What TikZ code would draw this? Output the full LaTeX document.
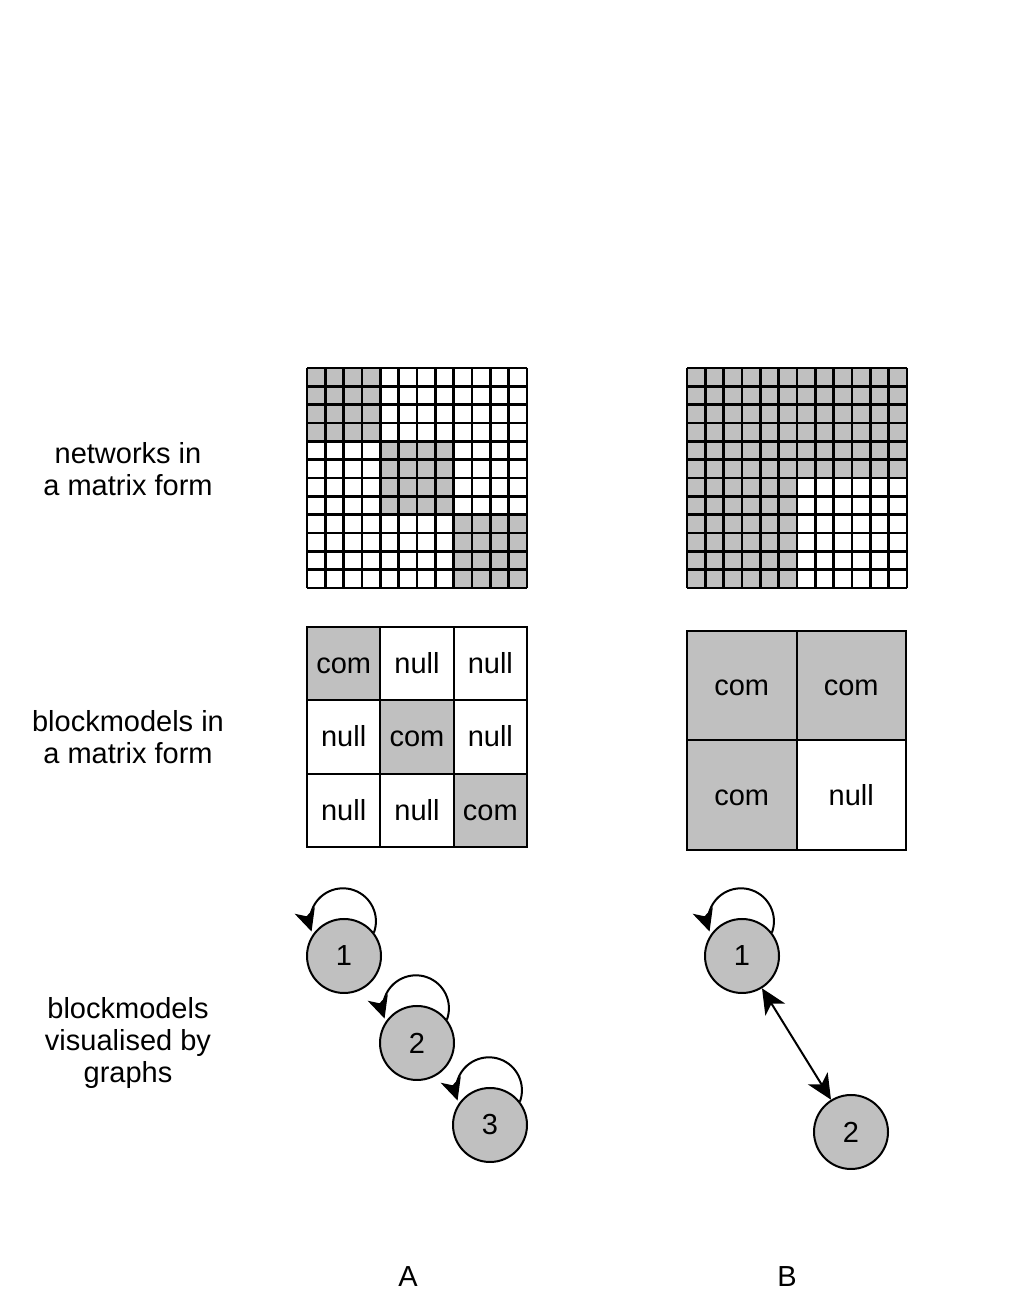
\documentclass[tikz,border=0pt]{standalone}
\usepackage{fontspec}
\setmainfont{Liberation Sans}
\usetikzlibrary{arrows.meta}
\definecolor{cellgray}{RGB}{192,192,192}
\tikzset{
  lbl/.style={font=\fontsize{29}{32}\selectfont, align=center},
  gline/.style={line width=2.5pt},
  celltext/.style={font=\fontsize{29}{32}\selectfont, text height=20pt, text depth=0pt},
  cellA/.style={draw, line width=2pt, minimum size=73.33pt, inner sep=0pt, celltext},
  cellB/.style={draw, line width=2pt, minimum size=109.5pt, inner sep=0pt, celltext},
  gray/.style={fill=cellgray},
  vtx/.style={circle, draw, line width=2pt, fill=cellgray, minimum size=74pt, inner sep=0pt, font=\fontsize{29}{32}\selectfont},
  tipA/.style={-{Stealth[length=22pt,width=21pt,inset=6pt]}, line width=2pt},
  bidir/.style={{Stealth[length=25pt,width=23pt,inset=7pt]}-{Stealth[length=25pt,width=23pt,inset=7pt]}, line width=2pt},
}
\begin{document}
\begin{tikzpicture}[x=1pt,y=1pt]
\useasboundingbox (0,0) rectangle (1017,1316);

% left labels
\node[lbl] (l1) at (128,847) {networks in\\a matrix form};
\node[lbl] (l2) at (128,579) {blockmodels in\\a matrix form};
\node[lbl] (l3) at (128,273) {blockmodels\\visualised by\\graphs};

% Matrix A (12x12), top-left (307,948)
\def\cs{18.333}
\begin{scope}[shift={(307,948)}]
  \fill[cellgray] (0,0) rectangle (4*\cs,-4*\cs);
  \fill[cellgray] (4*\cs,-4*\cs) rectangle (8*\cs,-8*\cs);
  \fill[cellgray] (8*\cs,-8*\cs) rectangle (12*\cs,-12*\cs);
  \foreach \i in {0,...,12} {
    \draw[gline] (\i*\cs,0) -- (\i*\cs,-12*\cs);
    \draw[gline] (0,-\i*\cs) -- (12*\cs,-\i*\cs);
  }
\end{scope}

% Matrix B (12x12), top-left (687,948)
\begin{scope}[shift={(687,948)}]
  \fill[cellgray] (0,0) rectangle (12*\cs,-6*\cs);
  \fill[cellgray] (0,-6*\cs) rectangle (6*\cs,-12*\cs);
  \foreach \i in {0,...,12} {
    \draw[gline] (\i*\cs,0) -- (\i*\cs,-12*\cs);
    \draw[gline] (0,-\i*\cs) -- (12*\cs,-\i*\cs);
  }
\end{scope}

% Blockmodel A (3x3)
\node[cellA,gray] (a11) at (343.67,652.33) {com};
\node[cellA]      (a12) at (417.00,652.33) {null};
\node[cellA]      (a13) at (490.33,652.33) {null};
\node[cellA]      (a21) at (343.67,579.00) {null};
\node[cellA,gray] (a22) at (417.00,579.00) {com};
\node[cellA]      (a23) at (490.33,579.00) {null};
\node[cellA]      (a31) at (343.67,505.67) {null};
\node[cellA]      (a32) at (417.00,505.67) {null};
\node[cellA,gray] (a33) at (490.33,505.67) {com};

% Blockmodel B (2x2)
\node[cellB,gray] (b11) at (741.75,630.25) {com};
\node[cellB,gray] (b12) at (851.25,630.25) {com};
\node[cellB,gray] (b21) at (741.75,520.75) {com};
\node[cellB]      (b22) at (851.25,520.75) {null};

% Graph A
\node[vtx] (ga1) at (344,360) {1};
\node[vtx] (ga2) at (417,273) {2};
\node[vtx] (ga3) at (490,191) {3};
\draw[tipA] (ga1.38) arc[start angle=-20, end angle=198, radius=33];
\draw[tipA] (ga2.38) arc[start angle=-20, end angle=198, radius=33];
\draw[tipA] (ga3.38) arc[start angle=-20, end angle=198, radius=33];

% Graph B
\node[vtx] (gb1) at (742,360) {1};
\node[vtx] (gb2) at (851,184) {2};
\draw[tipA] (gb1.38) arc[start angle=-20, end angle=198, radius=33];
\draw[bidir] (gb1) -- (gb2);

% column labels
\node[lbl] (la) at (408,39) {A};
\node[lbl] (lb) at (787,39) {B};
\end{tikzpicture}
\end{document}
